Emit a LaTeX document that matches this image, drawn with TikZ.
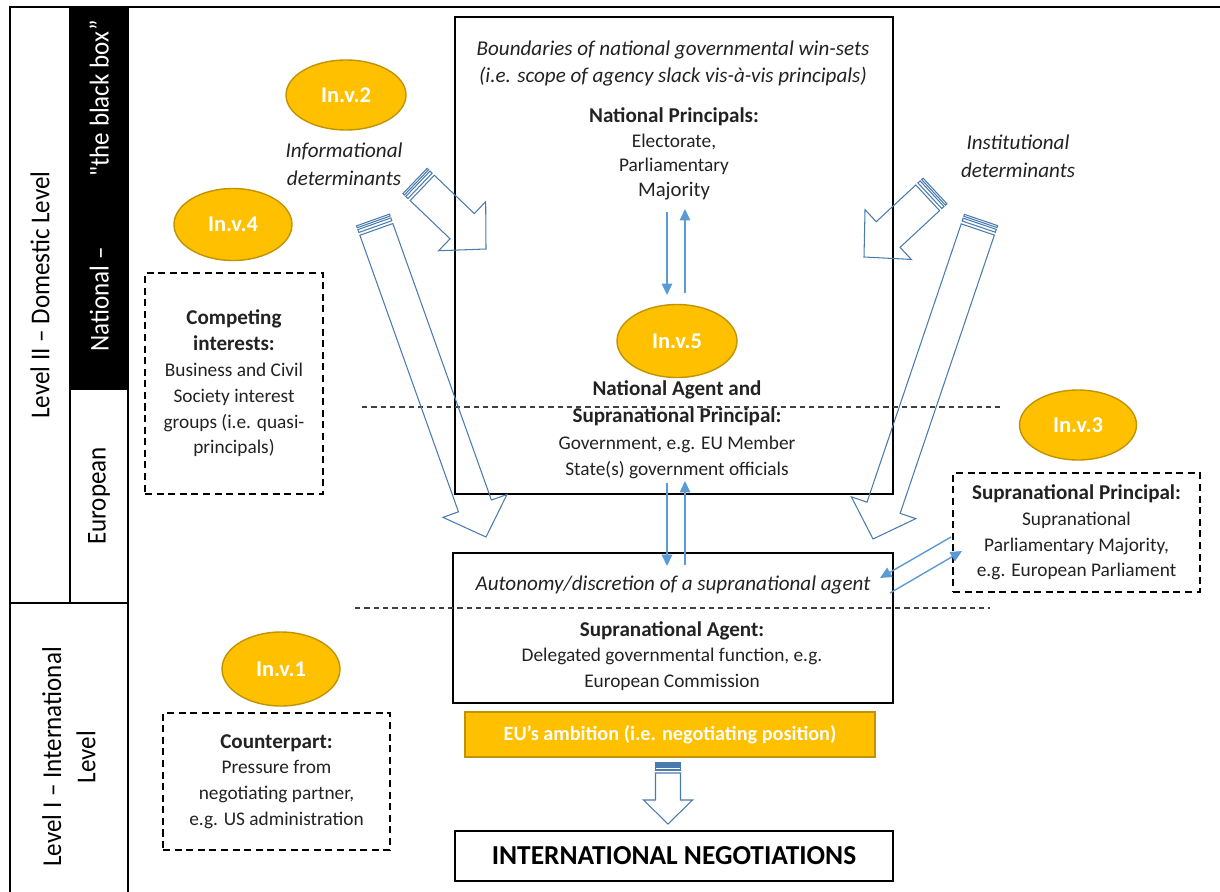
\documentclass[tikz,border=0pt]{standalone}
\usepackage{fontspec}
\setmainfont{Carlito}
\newfontfamily\narrowfont[FakeStretch=0.92]{Carlito}
\usetikzlibrary{calc,arrows.meta,shapes.geometric}

\definecolor{ink}{HTML}{222222}
\definecolor{gold}{HTML}{FFC000}
\definecolor{goldedge}{HTML}{C29300}
\definecolor{steel}{HTML}{4A7BAE}
\definecolor{sky}{HTML}{5B9BD5}

% bold heading line, slightly larger than the body text
\newcommand\hd[1]{{\fontsize{12}{\the\baselineskip}\selectfont\bfseries #1}}

% hollow striped block arrow: tail, tip, half shaft width, half head width, head length
\newcommand\stripedarrow[5]{%
  \coordinate (sa-h) at ($(#2)!#5!(#1)$);
  \coordinate (sa-b) at ($(#1)!0.2cm!(#2)$);
  \draw[blockarrow] ($(sa-b)!#3!90:(#2)$) -- ($(sa-h)!#3!90:(#2)$)
    -- ($(sa-h)!#4!90:(#2)$) -- (#2) -- ($(sa-h)!#4!-90:(#2)$)
    -- ($(sa-h)!#3!-90:(#2)$) -- ($(sa-b)!#3!-90:(#2)$) -- cycle;
  \foreach \sa/\sb in {0cm/0.04cm, 0.08cm/0.14cm}{
    \coordinate (sa-p) at ($(#1)!\sa!(#2)$);
    \coordinate (sa-q) at ($(#1)!\sb!(#2)$);
    \draw[blockarrow] ($(sa-p)!#3!90:(#2)$) -- ($(sa-q)!#3!90:(#2)$)
      -- ($(sa-q)!#3!-90:(#2)$) -- ($(sa-p)!#3!-90:(#2)$) -- cycle;
  }
}

\begin{document}
\begin{tikzpicture}[x=0.02cm, y=-0.02cm,
  frame/.style={draw=black, line width=1.2pt},
  solidbox/.style={draw=black, line width=1.2pt, inner sep=0pt},
  dashbox/.style={draw=black, line width=1.1pt, dash pattern=on 4pt off 2.6pt,
    inner sep=0pt, align=center, text=ink, font=\fontsize{11}{14.7}\selectfont},
  divider/.style={draw=black!75, line width=0.6pt, dash pattern=on 3pt off 2.3pt},
  badge/.style={ellipse, draw=goldedge, fill=gold, line width=0.8pt, inner sep=0pt,
    text=white, font=\fontsize{12.8}{15}\selectfont\bfseries},
  body/.style={text=ink, align=center, font=\fontsize{11}{14.7}\selectfont},
  slant/.style={text=ink, align=center, font=\fontsize{12}{15.3}\selectfont\itshape},
  sidelabel/.style={rotate=90, text=black, align=center,
    font=\narrowfont\fontsize{15.5}{19.5}\selectfont},
  blockarrow/.style={draw=steel, line width=0.6pt, line join=miter},
  flow/.style={draw=sky, line width=0.8pt, -{Triangle[length=6.5pt,width=6pt]}}
]
\useasboundingbox (0,0) rectangle (1220,892);

% ---- level columns on the left
\node[fill=black, minimum width=1.16cm, minimum height=7.66cm, inner sep=0pt] (blackcell) at (99,198.5) {};
\draw[frame] (10,892) -- (10,7) -- (1220,7);
\draw[frame] (70,7) -- (70,603);
\draw[frame] (128,7) -- (128,892);
\draw[frame] (10,603) -- (128,603);

\node[sidelabel] (lvl2) at (40,295) {Level II – Domestic Level};
\node[sidelabel, text=white] (natl) at (99,186) {National –\hspace{2.6em}"the black box”};
\node[sidelabel] (euro) at (99,496) {European};
\node[sidelabel] (lvl1) at (69,757) {Level I – International\\Level};

% ---- national box
\node[solidbox, minimum width=8.76cm, minimum height=9.54cm] (natbox) at (674,255.5) {};
\node[slant] (winsets) at (673,63.5)
  {Boundaries of national governmental win-sets\\(i.e. scope of agency slack vis-à-vis principals)};
\node[body] (natpT) at (674,117) {\hd{National Principals:}};
\node[body, font=\fontsize{11}{13.9}\selectfont] (natp) at (674,167)
  {Electorate,\\Parliamentary\\{\fontsize{11.8}{13.9}\selectfont Majority}};
\node[badge, minimum width=2.4cm, minimum height=1.46cm] (inv5) at (677,341) {In.v.5};
\node[body, font=\fontsize{11}{15.1}\selectfont] (govt) at (677,430)
  {\hd{National Agent and}\\\hd{Supranational Principal:}\\Government, e.g. EU Member\\State(s) government officials};

% ---- supranational agent box
\node[solidbox, minimum width=8.8cm, minimum height=3.0cm] (agbox) at (673,628) {};
\node[slant] (autonomy) at (673,585) {Autonomy/discretion of a supranational agent};
\node[body] (agent) at (672,656)
  {\hd{Supranational Agent:}\\Delegated governmental function, e.g.\\European Commission};

% ---- ambition bar and negotiations box
\node[fill=gold, draw=goldedge, line width=0.8pt, minimum width=8.2cm, minimum height=0.9cm,
  inner sep=0pt, text=white, font=\fontsize{11.5}{13}\selectfont\bfseries] (ambition) at (670,734.5)
  {EU’s ambition (i.e. negotiating position)};
\node[solidbox, minimum width=8.76cm, minimum height=1.0cm, text=black,
  font=\fontsize{15.6}{18}\selectfont\bfseries] (negot) at (674,856) {INTERNATIONAL NEGOTIATIONS};

% ---- dashed side boxes
\node[dashbox, minimum width=3.56cm, minimum height=4.42cm] (compete) at (234,383.5)
  {\hd{Competing}\\\hd{interests:}\\Business and Civil\\Society interest\\groups (i.e. quasi-\\principals)};
\node[dashbox, minimum width=4.94cm, minimum height=2.38cm] (supprin) at (1076.5,532.5)
  {\hd{Supranational Principal:}\\Supranational\\Parliamentary Majority,\\e.g. European Parliament};
\node[dashbox, minimum width=4.54cm, minimum height=2.74cm] (counter) at (276.5,781.5)
  {\hd{Counterpart:}\\Pressure from\\negotiating partner,\\e.g. US administration};

% ---- dashed level dividers
\coordinate (divAl) at (362,407); \coordinate (divAr) at (1000,407);
\coordinate (divBl) at (355,608); \coordinate (divBr) at (990,608);
\draw[divider] (divAl) -- (divAr);
\draw[divider] (divBl) -- (divBr);

% ---- independent variable badges and determinant labels
\node[badge, minimum width=2.4cm, minimum height=1.4cm] (inv2) at (346,95) {In.v.2};
\node[badge, minimum width=2.36cm, minimum height=1.44cm] (inv4) at (233,224.5) {In.v.4};
\node[badge, minimum width=2.34cm, minimum height=1.4cm] (inv3) at (1078,425) {In.v.3};
\node[badge, minimum width=2.36cm, minimum height=1.48cm] (inv1) at (281,669) {In.v.1};
\node[slant, font=\fontsize{12}{15.9}\selectfont\itshape] (infodet) at (344,164) {Informational\\determinants};
\node[slant, font=\fontsize{12}{15.9}\selectfont\itshape] (instdet) at (1018,156) {Institutional\\determinants};

% ---- delegation arrows
\coordinate (d1a) at (667,212); \coordinate (d1b) at (667,295);
\coordinate (u1a) at (685,293); \coordinate (u1b) at (685,209);
\coordinate (d2a) at (667,483); \coordinate (d2b) at (667,566);
\coordinate (u2a) at (685,565); \coordinate (u2b) at (685,481);
\coordinate (s1a) at (951,537); \coordinate (s1b) at (880,578);
\coordinate (s2a) at (890,593); \coordinate (s2b) at (962,551);
\draw[flow] (d1a) -- (d1b);
\draw[flow] (u1a) -- (u1b);
\draw[flow] (d2a) -- (d2b);
\draw[flow] (u2a) -- (u2b);
\draw[flow] (s1a) -- (s1b);
\draw[flow] (s2a) -- (s2b);

% ---- influence block arrows
\coordinate (infoT) at (415,181); \coordinate (infoP) at (486,249);
\coordinate (ltT) at (373,220);   \coordinate (ltP) at (486,537);
\coordinate (instT) at (935,191); \coordinate (instP) at (864,257);
\coordinate (rtT) at (981,220);   \coordinate (rtP) at (873,539);
\coordinate (dnT) at (668,763);   \coordinate (dnP) at (668,824);
\stripedarrow{infoT}{infoP}{0.35cm}{0.68cm}{0.66cm}
\stripedarrow{ltT}{ltP}{0.35cm}{0.68cm}{0.66cm}
\stripedarrow{instT}{instP}{0.35cm}{0.68cm}{0.66cm}
\stripedarrow{rtT}{rtP}{0.35cm}{0.68cm}{0.66cm}
\stripedarrow{dnT}{dnP}{0.25cm}{0.49cm}{0.48cm}
\end{tikzpicture}
\end{document}
